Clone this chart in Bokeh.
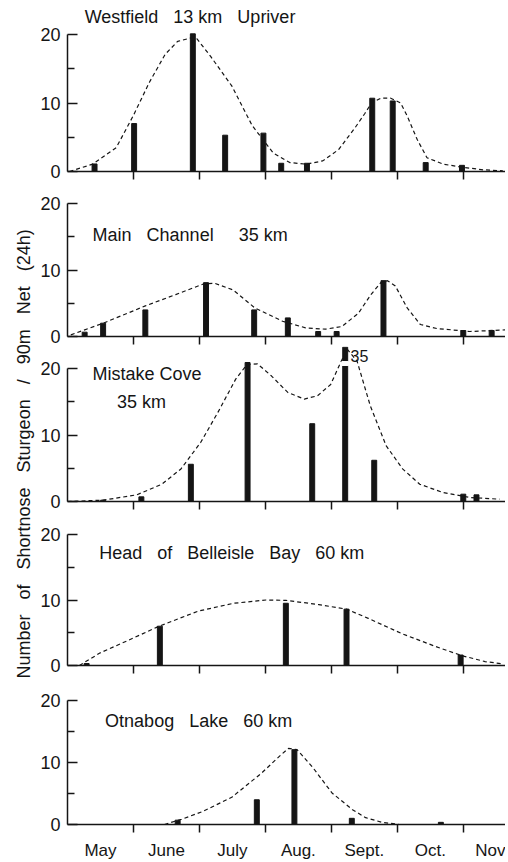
from bokeh.plotting import figure
from bokeh.layouts import column, row
from bokeh.models import Range1d, FixedTicker, Label
from bokeh.embed import file_html
from bokeh.resources import INLINE

FONT = "Liberation Sans"
INK = "#151515"
NB = "\u00a0"

# ---- axis ticks / labels (x in months from 1 May) ----
month_names = ["May", "June", "July", "Aug.", "Sept.", "Oct.", "Nov"]
month_mid = [0.5, 1.5, 2.5, 3.5, 4.5, 5.5, 6.5]
month_edges = [1, 2, 3, 4, 5, 6]
y_major = [0, 10, 20]
y_minor = [5, 15]

# ---- Westfield 13 km Upriver ----
west_bar_x = [0.41, 1.01, 1.90, 2.39, 2.97, 3.24, 3.63, 4.62, 4.93, 5.43, 5.98]
west_bar_y = [1.1, 7.0, 20.1, 5.3, 5.6, 1.2, 1.2, 10.7, 10.3, 1.3, 0.9]
west_curve_x = [0.03, 0.38, 0.74, 1.00, 1.24, 1.48, 1.67, 1.87, 1.96, 2.17, 2.49, 2.80,
                3.12, 3.37, 3.62, 3.87, 4.11, 4.36, 4.51, 4.61, 4.75, 4.90, 5.05, 5.15,
                5.30, 5.45, 5.70, 6.00, 6.30, 6.60]
west_curve_y = [0.0, 1.07, 3.5, 8.2, 13.0, 17.1, 19.0, 19.5, 19.4, 16.8, 12.5, 6.7,
                2.7, 1.3, 1.07, 1.55, 3.2, 6.4, 8.5, 10.0, 10.7, 10.7, 10.0, 8.1,
                4.7, 2.0, 1.07, 0.6, 0.25, 0.1]

# ---- Main Channel 35 km ----
main_bar_x = [0.26, 0.54, 1.18, 2.10, 2.83, 3.34, 3.80, 4.08, 4.79, 6.00, 6.43]
main_bar_y = [0.65, 2.0, 4.0, 8.1, 4.0, 2.8, 0.75, 0.75, 8.4, 0.9, 0.9]
main_curve_x = [0.05, 0.54, 1.18, 1.64, 2.06, 2.23, 2.51, 2.84, 3.26, 3.61, 3.91,
                4.16, 4.41, 4.60, 4.75, 4.85, 4.97, 5.15, 5.35, 5.60, 6.10, 6.64]
main_curve_y = [0.25, 2.0, 4.6, 6.3, 7.9, 8.0, 7.0, 4.3, 2.3, 1.3, 1.1,
                1.5, 3.5, 6.3, 8.1, 8.4, 7.6, 4.3, 1.8, 1.2, 0.75, 1.0]

# ---- Mistake Cove 35 km ----
cove_bar_x = [0.54, 1.12, 1.87, 2.73, 3.71, 4.21, 4.65, 6.00, 6.20]
cove_bar_y = [0.2, 0.7, 5.6, 20.9, 11.7, 35.0, 6.2, 1.1, 1.0]
cove_bar_cap = 23.2          # off-scale bar drawn broken at this height
cove_break = (20.45, 21.05)  # break in the off-scale bar
cove_curve_x = [0.00, 0.54, 1.05, 1.43, 1.72, 2.02, 2.28, 2.55, 2.72, 2.88, 3.09, 3.34,
                3.59, 3.79, 3.99, 4.14, 4.24, 4.39, 4.59, 4.83, 5.08, 5.34, 5.69, 6.10, 6.55]
cove_curve_y = [0.0, 0.2, 1.0, 2.6, 4.9, 8.9, 13.4, 18.4, 20.6, 20.7, 18.9, 16.4,
                15.4, 15.9, 17.6, 20.9, 22.9, 21.1, 14.4, 8.4, 4.9, 2.6, 1.35, 0.6, 0.35]

# ---- Head of Belleisle Bay 60 km ----
bay_bar_x = [0.29, 1.40, 3.31, 4.23, 5.96]
bay_bar_y = [0.3, 6.0, 9.5, 8.6, 1.6]
bay_curve_x = [0.18, 0.49, 1.00, 1.39, 1.98, 2.52, 3.01, 3.31, 3.81, 4.23, 4.56, 5.06,
               5.58, 5.98, 6.33, 6.60]
bay_curve_y = [0.0, 1.9, 4.2, 6.0, 8.3, 9.5, 10.0, 9.95, 9.3, 8.6, 7.2, 4.9,
               2.9, 1.5, 0.6, 0.25]

# ---- Otnabog Lake 60 km ----
lake_bar_x = [1.67, 2.87, 3.44, 4.31, 5.66]
lake_bar_y = [0.7, 4.0, 12.1, 1.0, 0.35]
lake_curve_x = [1.47, 1.73, 2.05, 2.49, 2.93, 3.23, 3.35, 3.48, 3.72, 4.01, 4.32, 4.52, 4.77, 5.03]
lake_curve_y = [0.0, 0.85, 2.1, 4.4, 8.2, 11.2, 12.3, 12.1, 9.2, 5.1, 2.4, 1.1, 0.35, 0.0]

Y_TITLE = f"Number {NB} of {NB} Shortnose {NB} Sturgeon {NB} / {NB} 90m {NB} Net {NB} (24h)"

X_END = 6.64
LABEL_W = 37
PANEL_W = 468
TOTAL_H = 862


def panel(bx, by, cx, cy, frame_h, px_per_unit, bottom, last=False):
    ymax = frame_h / px_per_unit
    p = figure(width=PANEL_W, height=frame_h + bottom,
               x_range=Range1d(0, X_END), y_range=Range1d(0, ymax),
               toolbar_location=None, output_backend="svg",
               min_border_left=28, min_border_right=0,
               min_border_top=0, min_border_bottom=bottom)
    p.xgrid.visible = False
    p.ygrid.visible = False
    p.outline_line_color = None
    p.background_fill_color = "white"

    ya = p.yaxis[0]
    ya.ticker = FixedTicker(ticks=y_major, minor_ticks=y_minor)
    ya.bounds = (0, 20)
    ya.major_tick_in = 10
    ya.major_tick_out = 0
    ya.minor_tick_in = 7
    ya.minor_tick_out = 0
    ya.axis_line_width = 1.5
    ya.major_tick_line_width = 1.5
    ya.minor_tick_line_width = 1.5
    ya.axis_line_color = INK
    ya.major_tick_line_color = INK
    ya.minor_tick_line_color = INK
    ya.major_label_text_font = FONT
    ya.major_label_text_font_size = "18px"
    ya.major_label_text_color = INK
    ya.major_label_standoff = 7

    xa = p.xaxis[0]
    if last:
        xa.ticker = FixedTicker(ticks=month_mid, minor_ticks=month_edges)
        xa.major_label_overrides = {m: n for m, n in zip(month_mid, month_names)}
        xa.major_label_text_font = FONT
        xa.major_label_text_font_size = "17px"
        xa.major_label_text_color = INK
        xa.major_label_standoff = 8
    else:
        xa.ticker = FixedTicker(ticks=[], minor_ticks=month_edges)
        xa.major_label_text_font_size = "0px"
        xa.major_label_standoff = 0
    xa.major_tick_in = 0
    xa.major_tick_out = 0
    xa.minor_tick_in = 0
    xa.minor_tick_out = 8
    xa.axis_line_width = 1.5
    xa.minor_tick_line_width = 1.5
    xa.axis_line_color = INK
    xa.minor_tick_line_color = INK

    p.line(cx, cy, line_dash="4 3", line_width=1.2, color=INK)
    p.vbar(x=bx, top=by, width=0.075, color=INK)
    return p


def title(p, text, x, y, size="18px"):
    p.add_layout(Label(x=x, y=y, text=text, text_font=FONT, text_font_size=size,
                       text_color=INK, text_baseline="middle", text_align="left"))


p1 = panel(west_bar_x, west_bar_y, west_curve_x, west_curve_y, 171, 6.85, 10)
title(p1, f"Westfield {NB} 13 km {NB} Upriver", 0.26, 22.5)

p2 = panel(main_bar_x, main_bar_y, main_curve_x, main_curve_y, 155, 6.65, 10)
title(p2, f"Main {NB} Channel {NB} {NB} 35 km", 0.38, 15.3)

cove_top = [min(v, cove_bar_cap) for v in cove_bar_y]
p3 = panel(cove_bar_x, cove_top, cove_curve_x, cove_curve_y, 155, 6.65, 10)
big = [x for x, v in zip(cove_bar_x, cove_bar_y) if v > cove_bar_cap]
big_v = [v for v in cove_bar_y if v > cove_bar_cap]
p3.vbar(x=big, bottom=cove_break[0], top=cove_break[1], width=0.1, color="white")
for x, v in zip(big, big_v):
    p3.add_layout(Label(x=x + 0.08, y=21.9, text=f"{v:.0f}", text_font=FONT,
                        text_font_size="16px", text_color=INK,
                        text_baseline="middle", text_align="left"))
title(p3, "Mistake Cove", 0.38, 19.1)
title(p3, "35 km", 0.75, 15.0)

p4 = panel(bay_bar_x, bay_bar_y, bay_curve_x, bay_curve_y, 154, 6.55, 10)
title(p4, f"Head {NB} of {NB} Belleisle {NB} Bay {NB} 60 km", 0.48, 17.25)

p5 = panel(lake_bar_x, lake_bar_y, lake_curve_x, lake_curve_y, 159, 6.6, 28, last=True)
title(p5, f"Otnabog {NB} Lake {NB} 60 km", 0.57, 16.8)

lab = figure(width=LABEL_W, height=TOTAL_H, x_range=Range1d(0, LABEL_W),
             y_range=Range1d(0, TOTAL_H),
             toolbar_location=None, output_backend="svg",
             x_axis_type=None, y_axis_type=None, min_border=0)
lab.xgrid.visible = False
lab.ygrid.visible = False
lab.outline_line_color = None
lab.add_layout(Label(x=23, y=184, text=Y_TITLE, angle=1.5707963, text_font=FONT,
                     text_font_size="18px", text_color=INK,
                     text_align="left", text_baseline="middle"))

layout = row(lab, column(p1, p2, p3, p4, p5, spacing=0), spacing=0)

open("out.html", "w").write(file_html(layout, INLINE))
